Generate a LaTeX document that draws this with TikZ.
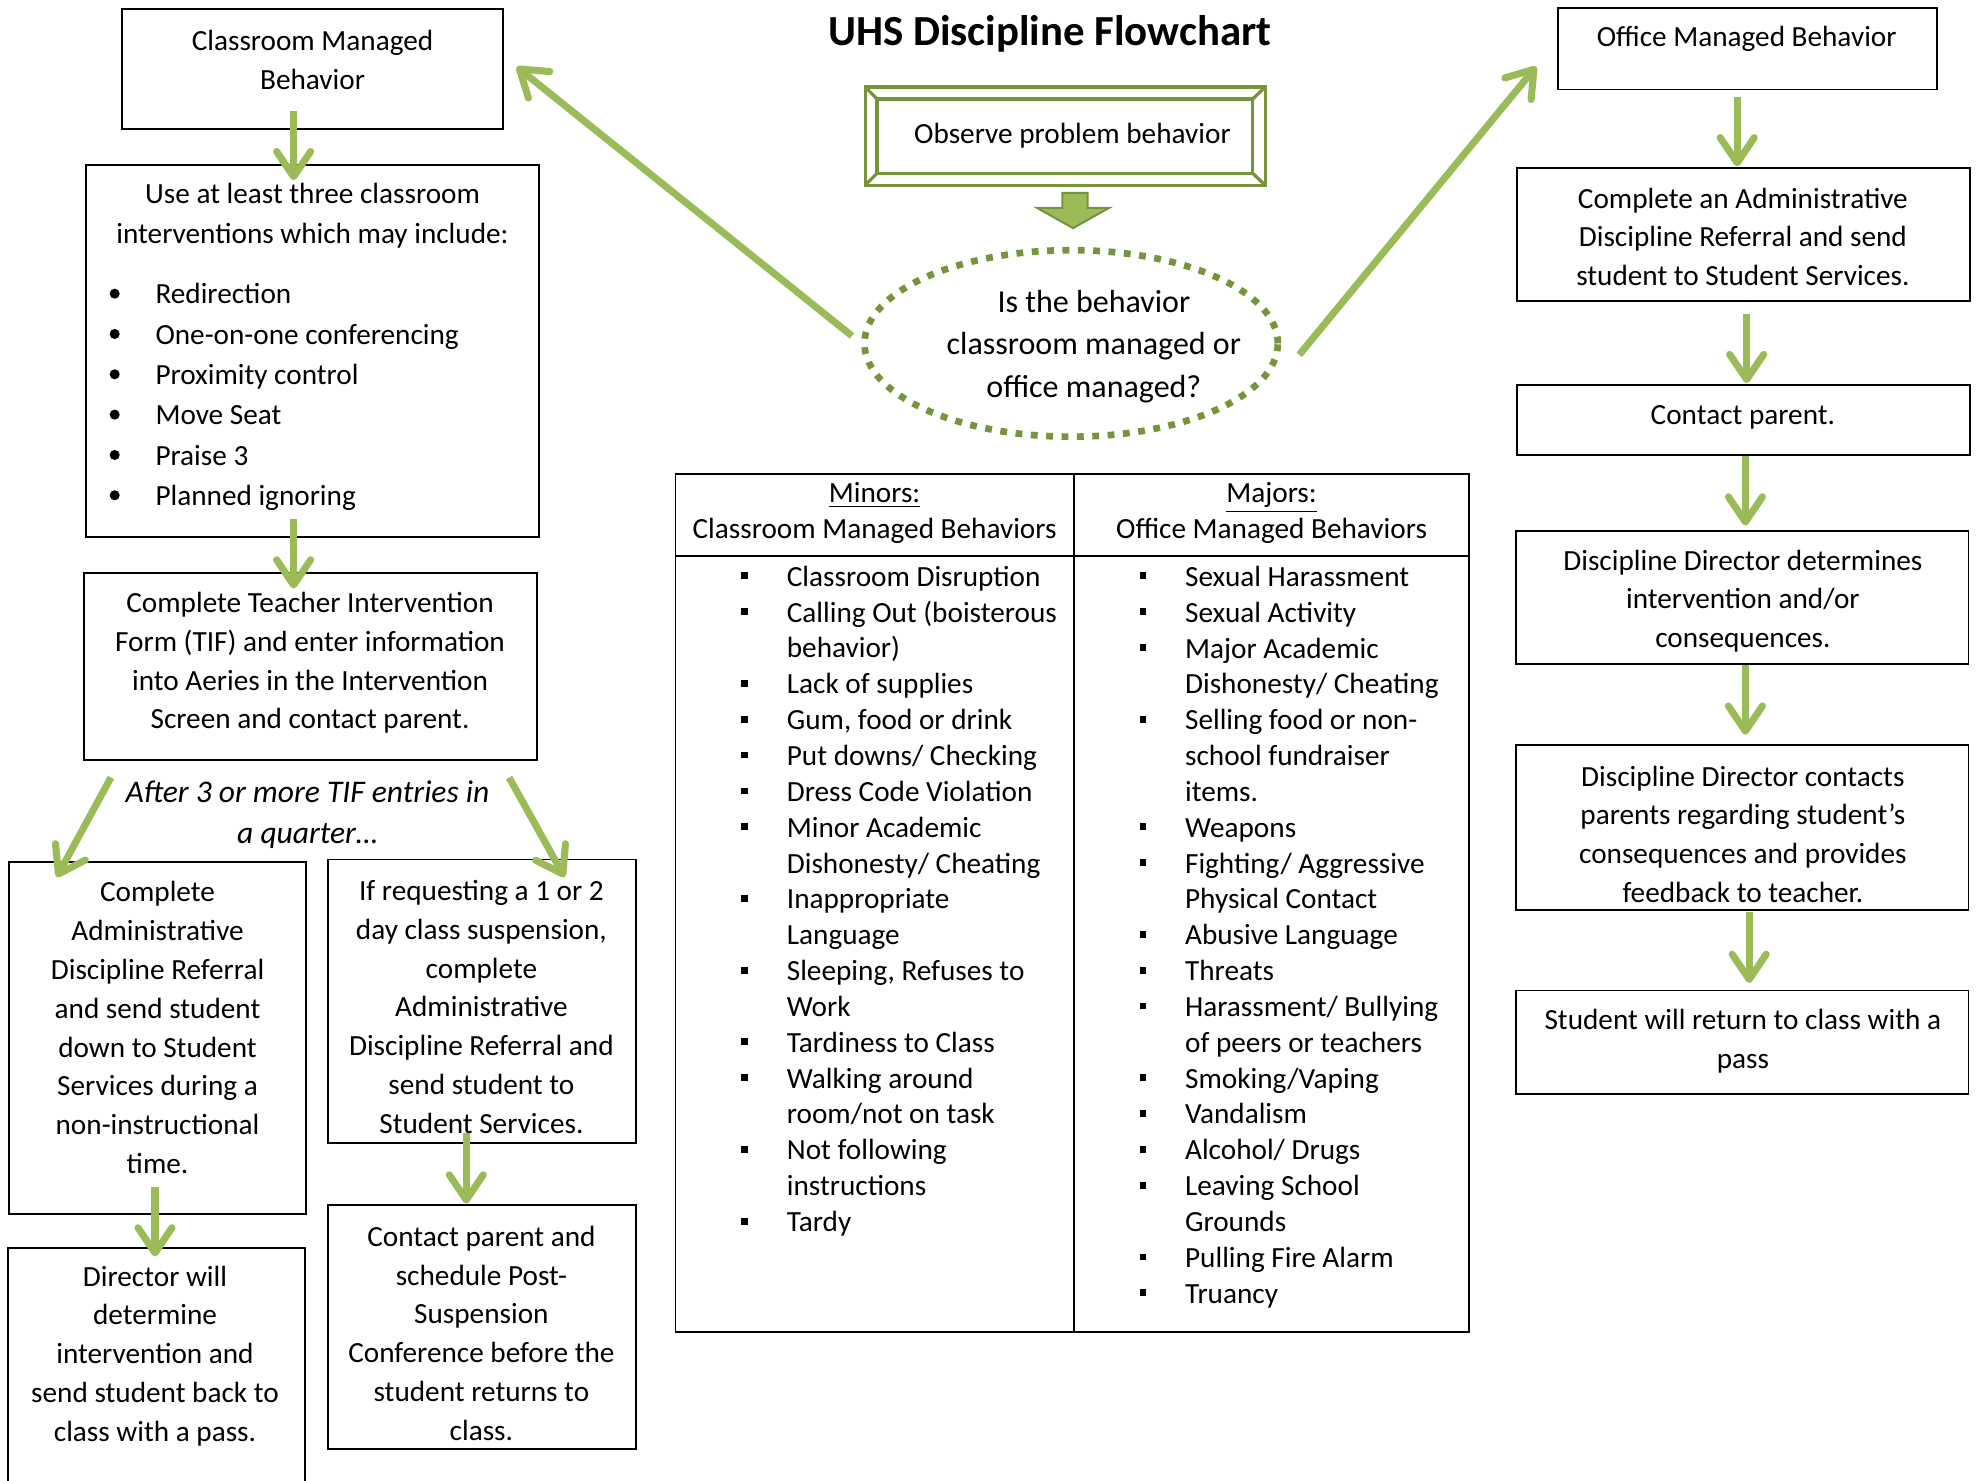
\documentclass[tikz,border=0pt]{standalone}
\usepackage{fontspec}
\setmainfont{Carlito}
\usetikzlibrary{arrows.meta,shapes.geometric,calc}
\definecolor{garr}{HTML}{9BBB59}
\definecolor{gdark}{HTML}{77933C}
\begin{document}
\begin{tikzpicture}[x=0.5pt,y=-0.5pt,
  box/.style={draw=black,line width=0.75pt,inner sep=0pt,outer sep=0pt,rectangle},
  txt/.style={inner sep=0pt,align=center,yshift=-1pt,font=\fontsize{11.6}{15.4}\selectfont},
  ltxt/.style={inner sep=0pt,align=left,anchor=west,yshift=-1pt},
  garrow/.style={draw=garr,line width=2.8pt,-{Straight Barb[length=10pt,width=13.5pt,round]}},
  gframe/.style={draw=gdark,line width=1.3pt},
]
\useasboundingbox (0,0) rectangle (1568,1175);

% title
\node[inner sep=0pt,yshift=-1pt,font=\bfseries\fontsize{17}{20}\selectfont] (title) at (833,25) {UHS Discipline Flowchart};

% left column boxes
\node[box,minimum width=151pt,minimum height=47.5pt] (A) at (248,54.5) {};
\node[txt] (At) at (248,45.5) {Classroom Managed\\Behavior};

\node[box,minimum width=180pt,minimum height=147.5pt] (B) at (248,278.5) {};
\node[txt,font=\fontsize{11.6}{16}\selectfont] (Bt) at (248,169) {Use at least three classroom\\interventions which may include:};
\foreach \yy in {233,265,297,329,361,393} \fill (91,\yy) circle (2pt);
\node[ltxt,font=\fontsize{11.6}{16}\selectfont] (Bl) at (123,313) {Redirection\\One-on-one conferencing\\Proximity control\\Move Seat\\Praise 3\\Planned ignoring};

\node[box,minimum width=179.5pt,minimum height=74pt] (C) at (246.5,529) {};
\node[txt] (Ct) at (246,524) {Complete Teacher Intervention\\Form (TIF) and enter information\\into Aeries in the Intervention\\Screen and contact parent.};

\node[txt,font=\itshape\fontsize{12.5}{16.5}\selectfont] (after) at (244,644.5) {After 3 or more TIF entries in\\a quarter…};

\node[box,minimum width=118pt,minimum height=139.5pt] (D) at (125,823.5) {};
\node[txt] (Dt) at (125,813.5) {Complete\\Administrative\\Discipline Referral\\and send student\\down to Student\\Services during a\\non-instructional\\time.};

\node[box,minimum width=122.5pt,minimum height=112.5pt] (E) at (382.5,794.5) {};
\node[txt] (Et) at (382,797) {If requesting a 1 or 2\\day class suspension,\\complete\\Administrative\\Discipline Referral and\\send student to\\Student Services.};

\node[box,minimum width=118pt,minimum height=105pt] (F) at (124,1095) {};
\node[txt] (Ft) at (123,1074) {Director will\\determine\\intervention and\\send student back to\\class with a pass.};

\node[box,minimum width=122.5pt,minimum height=97pt] (G) at (382.5,1053) {};
\node[txt] (Gt) at (382,1056) {Contact parent and\\schedule Post-\\Suspension\\Conference before the\\student returns to\\class.};

% centre
\node[gframe,inner sep=0pt,outer sep=0pt,minimum width=158.75pt,minimum height=39pt] (O) at (845.25,108) {};
\draw[gframe] ($(O.north west)+(9.5,9.6)$) rectangle ($(O.south east)+(-10,-9.5)$);
\draw[gframe] (O.north west) -- ++(9.5,9.6);
\draw[gframe] (O.north east) -- ++(-10,9.6);
\draw[gframe] (O.south west) -- ++(9.5,-9.5);
\draw[gframe] (O.south east) -- ++(-10,-9.5);
\node[txt] (Ot) at (851,106) {Observe problem behavior};

\draw[draw=gdark,fill=garr,line width=0.8pt,line join=miter] (843,153) -- (863,153) -- (863,165) -- (880,165) -- (851.5,181) -- (823,165) -- (843,165) -- cycle;

\node[ellipse,draw=gdark,line width=2.65pt,dash pattern=on 2.7pt off 3.4pt,minimum width=164pt,minimum height=74pt,inner sep=0pt,outer sep=0pt] (Q) at (850,272.5) {};
\node[txt,font=\fontsize{12.7}{17}\selectfont] (Qt) at (868,273) {Is the behavior\\classroom managed or\\office managed?};

% table
\node[box,minimum width=315pt,minimum height=340.5pt] (T) at (851,716.5) {};
\draw[line width=0.75pt] (852,376) -- (852,1057);
\draw[line width=0.75pt] (536,441) -- (1166,441);
\node[txt,font=\fontsize{11.6}{14}\selectfont] (Th1) at (694,405) {\underline{Minors:}\\Classroom Managed Behaviors};
\node[txt,font=\fontsize{11.6}{14}\selectfont] (Th2) at (1009,405) {\underline{Majors:}\\Office Managed Behaviors};

\node[ltxt,font=\fontsize{11.6}{14.22}\selectfont] (T1) at (624,713) {Classroom Disruption\\Calling Out (boisterous\\behavior)\\Lack of supplies\\Gum, food or drink\\Put downs/ Checking\\Dress Code Violation\\Minor Academic\\Dishonesty/ Cheating\\Inappropriate\\Language\\Sleeping, Refuses to\\Work\\Tardiness to Class\\Walking around\\room/not on task\\Not following\\instructions\\Tardy};
\foreach \k in {0,1,3,4,5,6,7,9,11,13,14,16,18}
  \fill ({588.3},{457+28.45*\k-2.8}) rectangle ++(5.4,5.4);

\node[ltxt,font=\fontsize{11.6}{14.22}\selectfont] (T2) at (940,741.5) {Sexual Harassment\\Sexual Activity\\Major Academic\\Dishonesty/ Cheating\\Selling food or non-\\school fundraiser\\items.\\Weapons\\Fighting/ Aggressive\\Physical Contact\\Abusive Language\\Threats\\Harassment/ Bullying\\of peers or teachers\\Smoking/Vaping\\Vandalism\\Alcohol/ Drugs\\Leaving School\\Grounds\\Pulling Fire Alarm\\Truancy};
\foreach \k in {0,1,2,4,7,8,10,11,12,14,15,16,17,19,20}
  \fill ({904.3},{457+28.45*\k-2.8}) rectangle ++(5.4,5.4);

% right column
\node[box,minimum width=150.5pt,minimum height=32.2pt] (H) at (1386.5,38.8) {};
\node[txt] (Ht) at (1386,29) {Office Managed Behavior};

\node[box,minimum width=179.5pt,minimum height=53pt] (I) at (1383.5,186) {};
\node[txt] (It) at (1383,186) {Complete an Administrative\\Discipline Referral and send\\student to Student Services.};

\node[box,minimum width=179.5pt,minimum height=27.7pt] (J) at (1383.5,333.3) {};
\node[txt] (Jt) at (1383,329) {Contact parent.};

\node[box,minimum width=179.5pt,minimum height=53pt] (K) at (1382.5,474) {};
\node[txt] (Kt) at (1383,475) {Discipline Director determines\\intervention and/or\\consequences.};

\node[box,minimum width=179.5pt,minimum height=65.5pt] (L) at (1382.5,656.5) {};
\node[txt] (Lt) at (1383,660) {Discipline Director contacts\\parents regarding student’s\\consequences and provides\\feedback to teacher.};

\node[box,minimum width=179.5pt,minimum height=41pt] (M) at (1382.5,827) {};
\node[txt] (Mt) at (1383,824.5) {Student will return to class with a\\pass};

% connectors
\draw[garrow] ($(Q.west)+(-10,-6)$) -- ($(A.east)+(11,-1.5)$);
\draw[garrow] ($(Q.east)+(17,9)$) -- ($(H.west)+(-17,14)$);
\draw[garrow] ($(A.south)+(-15,-14)$) -- ($(B.north)+(-15,12)$);
\draw[garrow] ($(B.south)+(-15,-14)$) -- ($(C.north)+(-13.5,12)$);
\draw[garrow] ($(C.south)+(-158.5,14)$) -- ($(D.north)+(-80,12)$);
\draw[garrow] ($(C.south)+(157.5,14)$) -- ($(E.north)+(65.5,14)$);
\draw[garrow] ($(D.south)+(-2,-21)$) -- ($(F.north)+(-1,7)$);
\draw[garrow] ($(E.south)+(-12.5,-8)$) -- ($(G.north)+(-12.5,-1)$);
\draw[garrow] ($(H.south)+(-8,6)$) -- ($(I.north)+(-5,-1)$);
\draw[garrow] ($(I.south)+(2.5,10)$) -- ($(J.north)+(2.5,-1.6)$);
\draw[garrow] ($(J.south)+(1.5,1)$) -- ($(K.north)+(2.5,-4)$);
\draw[garrow] ($(K.south)+(2.5,1)$) -- ($(L.north)+(2.5,-8)$);
\draw[garrow] ($(L.south)+(5.5,2)$) -- ($(M.north)+(5.5,-6)$);
\end{tikzpicture}
\end{document}
